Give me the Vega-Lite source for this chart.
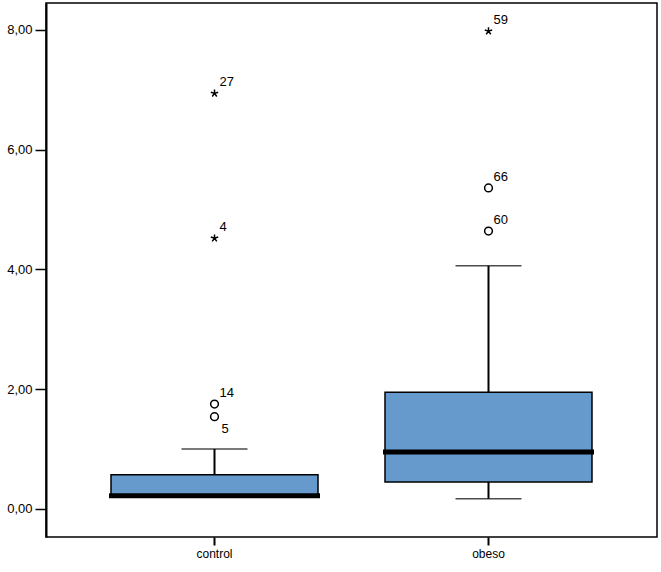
{
  "$schema": "https://vega.github.io/schema/vega-lite/v6.json",
  "width": 611,
  "height": 534,
  "autosize": "none",
  "padding": {"left": 46, "top": 3, "right": 4, "bottom": 35},
  "background": "white",
  "config": {
    "view": {"stroke": "black", "strokeWidth": 1.5},
    "font": "Liberation Sans"
  },
  "datasets": {
    "boxes": [
      {"group": "control", "lo": 0.2, "q1": 0.2, "median": 0.22, "q3": 0.57, "hi": 1.0},
      {"group": "obeso", "lo": 0.17, "q1": 0.45, "median": 0.95, "q3": 1.95, "hi": 4.06}
    ],
    "outliers": [
      {"group": "control", "value": 1.54, "id": "5", "kind": "circle"},
      {"group": "control", "value": 1.75, "id": "14", "kind": "circle"},
      {"group": "control", "value": 4.52, "id": "4", "kind": "star"},
      {"group": "control", "value": 6.94, "id": "27", "kind": "star"},
      {"group": "obeso", "value": 4.64, "id": "60", "kind": "circle"},
      {"group": "obeso", "value": 5.36, "id": "66", "kind": "circle"},
      {"group": "obeso", "value": 7.98, "id": "59", "kind": "star"}
    ]
  },
  "encoding": {
    "x": {
      "field": "group",
      "type": "nominal",
      "sort": ["control", "obeso"],
      "scale": {"type": "band", "paddingInner": 0, "paddingOuter": 0.115},
      "axis": {
        "title": null,
        "domain": false,
        "labelAngle": 0,
        "tickColor": "black",
        "tickWidth": 2,
        "tickSize": 8,
        "labelFontSize": 12,
        "labelColor": "black",
        "labelPadding": 3
      }
    }
  },
  "layer": [
    {
      "data": {"name": "boxes"},
      "mark": {"type": "rule", "color": "black", "strokeWidth": 2},
      "encoding": {
        "y": {
          "field": "lo",
          "type": "quantitative",
          "scale": {"domain": [-0.47, 8.45], "nice": false, "zero": false},
          "axis": {
            "title": null,
            "values": [0, 2, 4, 6, 8],
            "format": ".2f",
            "labelExpr": "replace(datum.label, '.', ',')",
            "grid": false,
            "domainColor": "black",
            "domainWidth": 2,
            "tickColor": "black",
            "tickWidth": 1.5,
            "tickSize": 11,
            "labelFontSize": 13,
            "labelColor": "black",
            "labelPadding": 3
          }
        },
        "y2": {"field": "hi"}
      }
    },
    {
      "data": {"name": "boxes"},
      "mark": {"type": "tick", "color": "black", "size": 66, "thickness": 1.5},
      "encoding": {"y": {"field": "hi", "type": "quantitative"}}
    },
    {
      "data": {"name": "boxes"},
      "mark": {"type": "tick", "color": "black", "size": 66, "thickness": 1.5},
      "encoding": {"y": {"field": "lo", "type": "quantitative"}}
    },
    {
      "data": {"name": "boxes"},
      "mark": {"type": "bar", "fill": "#6699cc", "stroke": "black", "strokeWidth": 1.5, "width": 207},
      "encoding": {
        "y": {"field": "q1", "type": "quantitative"},
        "y2": {"field": "q3"}
      }
    },
    {
      "data": {"name": "boxes"},
      "mark": {"type": "tick", "color": "black", "size": 211, "thickness": 5, "opacity": 1},
      "encoding": {"y": {"field": "median", "type": "quantitative"}}
    },
    {
      "data": {"name": "outliers"},
      "mark": {"type": "point", "filled": false, "stroke": "black", "strokeWidth": 1.5, "opacity": 1, "size": 60},
      "encoding": {
        "y": {"field": "value", "type": "quantitative"},
        "shape": {
          "field": "kind",
          "type": "nominal",
          "legend": null,
          "scale": {
            "domain": ["circle", "star"],
            "range": ["circle", "M0,0L0,-1M0,0L0.95,-0.31M0,0L0.59,0.81M0,0L-0.59,0.81M0,0L-0.95,-0.31"]
          }
        }
      }
    },
    {
      "data": {"name": "outliers"},
      "transform": [{"filter": "datum.id != '5'"}],
      "mark": {"type": "text", "align": "left", "baseline": "alphabetic", "dx": 5, "dy": -7, "fontSize": 13, "color": "black"},
      "encoding": {
        "y": {"field": "value", "type": "quantitative"},
        "text": {"field": "id"}
      }
    },
    {
      "data": {"name": "outliers"},
      "transform": [{"filter": "datum.id == '5'"}],
      "mark": {"type": "text", "align": "left", "baseline": "alphabetic", "dx": 7, "dy": 16, "fontSize": 13, "color": "black"},
      "encoding": {
        "y": {"field": "value", "type": "quantitative"},
        "text": {"field": "id"}
      }
    }
  ]
}
